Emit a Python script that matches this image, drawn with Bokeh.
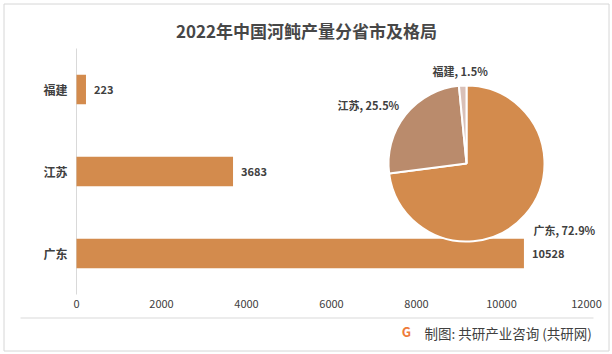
import math
from bokeh.plotting import figure
from bokeh.models import (Range1d, FixedTicker, Label, ColumnDataSource)
from bokeh.embed import file_html
from bokeh.resources import INLINE
from bokeh.core.properties import value

# ---------------- data ----------------
provinces = ["广东", "江苏", "福建"]          # bottom -> top
outputs = [10528, 3683, 223]                  # 产量
x_ticks = [0, 2000, 4000, 6000, 8000, 10000, 12000]
pie_colors = ["#D38B4D", "#BA8B6C", "#D9C0B8"]
bar_color = "#D38B4D"
title_text = "2022年中国河鲀产量分省市及格局"
source_text = "制图: 共研产业咨询 (共研网)"

# ---------------- layout (canvas pixels) ----------------
FONT = "Noto Sans CJK SC"
W, H = 612, 354
L, R, T, B = 2, 610, 2, 352            # frame box
X0PX, X12PX = 76, 586                  # pixel of value 0 and 12000
CAT0PX, CATSTEP = 253, 82              # centre of first category, spacing
kx = (X12PX - X0PX) / 12000.0


def cy(y):
    return H - y


pos = list(range(len(provinces)))

p = figure(width=W, height=H, output_backend="svg", toolbar_location=None,
           title_location=None,
           x_range=Range1d((L - X0PX) / kx, (R - X0PX) / kx),
           y_range=Range1d((CAT0PX - B) / CATSTEP, (CAT0PX - T) / CATSTEP),
           min_border_left=L, min_border_right=W - R,
           min_border_top=T, min_border_bottom=H - B)
p.extra_x_ranges = {"px": Range1d(L, R)}
p.extra_y_ranges = {"px": Range1d(H - B, H - T)}
p.outline_line_color = None
p.background_fill_color = "white"
p.border_fill_color = "white"
p.xgrid.visible = False
p.ygrid.visible = False

# outer border & separator line (decoration, in canvas pixels)
p.quad(left=3.5, right=608.5, bottom=cy(350.5), top=cy(3.5),
       fill_color=None, line_color="#D6D6D6", line_width=1,
       x_range_name="px", y_range_name="px")
p.segment(x0=20, y0=cy(317.5), x1=593, y1=cy(317.5),
          line_color="#D9D9D9", line_width=1,
          x_range_name="px", y_range_name="px")
p.add_layout(Label(x=306, y=cy(30), text=title_text,
                   x_range_name="px", y_range_name="px",
                   text_align="center", text_baseline="middle",
                   text_font=FONT, text_font_size="17px",
                   text_font_style="bold", text_color="#474747"))

# category axis line
p.segment(x0=0, y0=-0.5, x1=0, y1=len(provinces) - 0.5,
          line_color="#D9D9D9", line_width=1)

# bars
src = ColumnDataSource(dict(pos=pos, val=outputs,
                            lab=[str(v) for v in outputs]))
p.hbar(y="pos", left=0, right="val", height=0.36, source=src,
       fill_color=bar_color, line_color=None)
p.text(x="val", y="pos", text="lab", source=src, x_offset=8,
       text_baseline="middle", text_align="left",
       text_font=value(FONT), text_font_style="bold",
       text_font_size="11px", text_color="#404040")

# axes
xa = p.xaxis[0]
xa.ticker = FixedTicker(ticks=x_ticks)
xa.axis_line_color = None
xa.major_tick_line_color = None
xa.minor_tick_line_color = None
xa.major_tick_out = 0
xa.major_label_standoff = -53
xa.major_label_text_font = FONT
xa.major_label_text_font_size = "11px"
xa.major_label_text_color = "#404040"

ya = p.yaxis[0]
ya.ticker = FixedTicker(ticks=pos)
ya.major_label_overrides = {i: n for i, n in zip(pos, provinces)}
ya.axis_line_color = None
ya.major_tick_line_color = None
ya.minor_tick_line_color = None
ya.major_tick_out = 0
ya.major_label_standoff = -(X0PX - 9 - L)
ya.major_label_text_font = FONT
ya.major_label_text_font_size = "12px"
ya.major_label_text_font_style = "bold"
ya.major_label_text_color = "#404040"

# pie
total = sum(outputs)
fr = [v / total for v in outputs]
starts, ends = [], []
acc = 0.0
for f in fr:
    starts.append(math.pi / 2 - 2 * math.pi * acc)
    acc += f
    ends.append(math.pi / 2 - 2 * math.pi * acc)
pie_src = ColumnDataSource(dict(start=starts, end=ends, color=pie_colors))
p.wedge(x=466, y=cy(163), radius=78, radius_units="screen",
        start_angle="start", end_angle="end", direction="clock",
        fill_color="color", line_color="white", line_width=2,
        source=pie_src, x_range_name="px", y_range_name="px")

pie_label_pos = [(533, 229), (337, 104), (432, 70)]
for name, f, (lx, ly) in zip(provinces, fr, pie_label_pos):
    p.add_layout(Label(x=lx, y=cy(ly), text=f"{name}, {f*100:.1f}%",
                       x_range_name="px", y_range_name="px",
                       text_align="left", text_baseline="middle",
                       text_font=FONT, text_font_size="11px",
                       text_font_style="bold", text_color="#404040"))

# source
p.add_layout(Label(x=406, y=cy(331), text="G",
                   x_range_name="px", y_range_name="px",
                   text_align="center", text_baseline="middle",
                   text_font=FONT, text_font_size="13px",
                   text_font_style="bold", text_color="#EE7B3A"))
p.add_layout(Label(x=424, y=cy(332), text=source_text,
                   x_range_name="px", y_range_name="px",
                   text_align="left", text_baseline="middle",
                   text_font=FONT, text_font_size="13.5px",
                   text_color="#404040"))

open("out.html", "w").write(file_html(p, INLINE))
